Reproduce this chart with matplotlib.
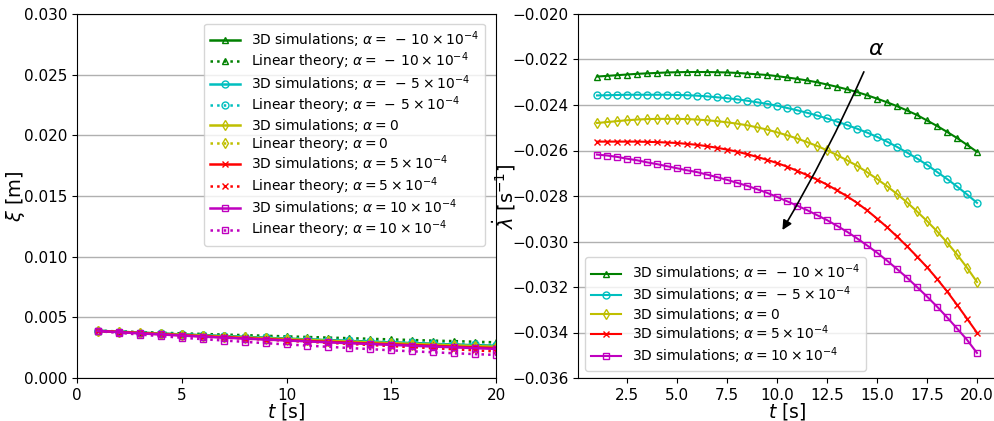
import numpy as np
import matplotlib
matplotlib.use('Agg')
import matplotlib.pyplot as plt

# ---- data: wave amplitude xi (left panel), integer times ----
t_xi = [1, 2, 3, 4, 5, 6, 7, 8, 9, 10, 11, 12, 13, 14, 15, 16, 17, 18, 19, 20]

xi_sim_m10 = [0.00389, 0.00381, 0.00374, 0.00366, 0.00359, 0.00352, 0.00345, 0.00338, 0.00331, 0.00324,
              0.00318, 0.00311, 0.00305, 0.00299, 0.00293, 0.00287, 0.00281, 0.00275, 0.00270, 0.00264]
xi_lin_m10 = [0.00390, 0.00384, 0.00379, 0.00373, 0.00368, 0.00363, 0.00358, 0.00353, 0.00348, 0.00343,
              0.00338, 0.00333, 0.00328, 0.00323, 0.00318, 0.00313, 0.00308, 0.00304, 0.00299, 0.00294]
xi_sim_m5 = [0.00389, 0.00381, 0.00373, 0.00365, 0.00358, 0.00350, 0.00343, 0.00336, 0.00329, 0.00322,
             0.00316, 0.00309, 0.00303, 0.00297, 0.00291, 0.00285, 0.00279, 0.00273, 0.00267, 0.00261]
xi_lin_m5 = [0.00389, 0.00382, 0.00375, 0.00368, 0.00361, 0.00354, 0.00348, 0.00341, 0.00335, 0.00329,
             0.00323, 0.00317, 0.00311, 0.00305, 0.00299, 0.00294, 0.00288, 0.00283, 0.00277, 0.00272]
xi_sim_0 = [0.00388, 0.00380, 0.00372, 0.00364, 0.00356, 0.00348, 0.00341, 0.00334, 0.00327, 0.00320,
            0.00313, 0.00306, 0.00300, 0.00293, 0.00287, 0.00281, 0.00275, 0.00269, 0.00263, 0.00257]
xi_lin_0 = [0.00388, 0.00380, 0.00371, 0.00363, 0.00355, 0.00347, 0.00339, 0.00332, 0.00324, 0.00317,
            0.00310, 0.00303, 0.00296, 0.00289, 0.00283, 0.00276, 0.00270, 0.00264, 0.00258, 0.00252]
xi_sim_5 = [0.00388, 0.00379, 0.00370, 0.00361, 0.00352, 0.00344, 0.00336, 0.00328, 0.00320, 0.00313,
            0.00305, 0.00298, 0.00291, 0.00284, 0.00278, 0.00271, 0.00265, 0.00258, 0.00252, 0.00246]
xi_lin_5 = [0.00387, 0.00378, 0.00369, 0.00360, 0.00351, 0.00342, 0.00334, 0.00325, 0.00316, 0.00307,
            0.00298, 0.00290, 0.00281, 0.00272, 0.00263, 0.00254, 0.00246, 0.00237, 0.00228, 0.00219]
xi_sim_10 = [0.00388, 0.00378, 0.00368, 0.00359, 0.00350, 0.00341, 0.00333, 0.00325, 0.00317, 0.00309,
             0.00302, 0.00294, 0.00287, 0.00280, 0.00273, 0.00266, 0.00259, 0.00253, 0.00246, 0.00240]
xi_lin_10 = [0.00386, 0.00372, 0.00358, 0.00345, 0.00332, 0.00320, 0.00309, 0.00298, 0.00287, 0.00277,
             0.00267, 0.00257, 0.00247, 0.00238, 0.00228, 0.00220, 0.00212, 0.00204, 0.00197, 0.00190]

# ---- data: growth rate lambda-dot (right panel), half-second times ----
t_lam = [1.0, 1.5, 2.0, 2.5, 3.0, 3.5, 4.0, 4.5, 5.0, 5.5, 6.0, 6.5, 7.0, 7.5, 8.0, 8.5, 9.0, 9.5, 10.0,
         10.5, 11.0, 11.5, 12.0, 12.5, 13.0, 13.5, 14.0, 14.5, 15.0, 15.5, 16.0, 16.5, 17.0, 17.5, 18.0,
         18.5, 19.0, 19.5, 20.0]

lam_m10 = [-0.02275, -0.02272, -0.02269, -0.02266, -0.02263, -0.02261, -0.02259, -0.02257, -0.02256,
           -0.02255, -0.02255, -0.02255, -0.02256, -0.02257, -0.02259, -0.02262, -0.02265, -0.02268,
           -0.02273, -0.02279, -0.02285, -0.02292, -0.02300, -0.02310, -0.02320, -0.02331, -0.02343,
           -0.02357, -0.02372, -0.02388, -0.02405, -0.02424, -0.02444, -0.02468, -0.02492, -0.02518,
           -0.02545, -0.02575, -0.02606]
lam_m5 = [-0.02358, -0.02357, -0.02356, -0.02355, -0.02355, -0.02355, -0.02355, -0.02355, -0.02356,
          -0.02357, -0.02359, -0.02362, -0.02366, -0.02370, -0.02375, -0.02381, -0.02388, -0.02395,
          -0.02403, -0.02413, -0.02423, -0.02434, -0.02446, -0.02459, -0.02473, -0.02488, -0.02504,
          -0.02521, -0.02540, -0.02561, -0.02584, -0.02609, -0.02635, -0.02663, -0.02694, -0.02725,
          -0.02758, -0.02793, -0.02830]
lam_0 = [-0.02479, -0.02475, -0.02471, -0.02467, -0.02464, -0.02462, -0.02461, -0.02461, -0.02461,
         -0.02462, -0.02464, -0.02467, -0.02471, -0.02476, -0.02482, -0.02489, -0.02498, -0.02508,
         -0.02520, -0.02533, -0.02547, -0.02563, -0.02580, -0.02599, -0.02620, -0.02643, -0.02667,
         -0.02695, -0.02725, -0.02757, -0.02791, -0.02828, -0.02868, -0.02910, -0.02955, -0.03004,
         -0.03057, -0.03115, -0.03178]
lam_5 = [-0.02561, -0.02561, -0.02561, -0.02561, -0.02561, -0.02562, -0.02563, -0.02565, -0.02567,
         -0.02571, -0.02575, -0.02581, -0.02588, -0.02596, -0.02605, -0.02616, -0.02628, -0.02641,
         -0.02655, -0.02671, -0.02689, -0.02708, -0.02728, -0.02750, -0.02775, -0.02801, -0.02830,
         -0.02863, -0.02899, -0.02937, -0.02978, -0.03021, -0.03066, -0.03113, -0.03164, -0.03219,
         -0.03278, -0.03339, -0.03401]
lam_10 = [-0.02618, -0.02622, -0.02628, -0.02636, -0.02643, -0.02652, -0.02660, -0.02669, -0.02678,
          -0.02687, -0.02695, -0.02706, -0.02717, -0.02729, -0.02742, -0.02755, -0.02770, -0.02786,
          -0.02804, -0.02823, -0.02842, -0.02862, -0.02884, -0.02906, -0.02931, -0.02957, -0.02986,
          -0.03017, -0.03049, -0.03084, -0.03121, -0.03159, -0.03200, -0.03242, -0.03286, -0.03333,
          -0.03382, -0.03432, -0.03490]

alpha_labels = [r'$\alpha = \,-\, 10\times10^{-4}$', r'$\alpha = \,-\, 5\times10^{-4}$', r'$\alpha = 0$',
                r'$\alpha = 5\times10^{-4}$', r'$\alpha = 10\times10^{-4}$']
colors = ['g', 'c', 'y', 'r', 'm']
markers = ['^', 'o', 'd', 'x', 's']

xi_sim = [xi_sim_m10, xi_sim_m5, xi_sim_0, xi_sim_5, xi_sim_10]
xi_lin = [xi_lin_m10, xi_lin_m5, xi_lin_0, xi_lin_5, xi_lin_10]
lam = [lam_m10, lam_m5, lam_0, lam_5, lam_10]

fig = plt.figure(figsize=(9.95, 4.21), dpi=100)
ax1 = fig.add_axes([77 / 995, 43 / 421, 419 / 995, 364 / 421])
ax2 = fig.add_axes([578 / 995, 43 / 421, 418 / 995, 364 / 421])

# left: xi(t)
for i in range(5):
    ax1.plot(t_xi, xi_sim[i], color=colors[i], marker=markers[i], mfc='none', ms=5, lw=1.8,
             label='3D simulations; ' + alpha_labels[i])
    ax1.plot(t_xi, xi_lin[i], color=colors[i], marker=markers[i], mfc='none', ms=5, lw=1.8, ls=':',
             label='Linear theory; ' + alpha_labels[i])
ax1.set_xlim(0, 20)
ax1.set_ylim(0, 0.03)
ax1.set_xticks([0, 5, 10, 15, 20])
ax1.yaxis.grid(True, color='#b0b0b0', lw=1)
ax1.tick_params(labelsize=11)
ax1.set_xlabel(r'$t$ [s]', fontsize=13.5, va='center')
ax1.xaxis.set_label_coords(0.5, -0.091)
ax1.set_ylabel(r'$\xi$ [m]', fontsize=14, va='center')
ax1.yaxis.set_label_coords(-0.147, 0.5)
ax1.legend(loc='upper right', fontsize=10, handlelength=2.2, labelspacing=0.06,
           borderaxespad=0.3, bbox_to_anchor=(0.983, 0.985))

# right: lambda-dot(t)
for i in range(5):
    ax2.plot(t_lam, lam[i], color=colors[i], marker=markers[i], mfc='none', ms=5, lw=1.5,
             label='3D simulations; ' + alpha_labels[i])
ax2.set_ylim(-0.036, -0.020)
ax2.set_yticks(np.arange(-0.036, -0.0199, 0.002))
ax2.set_xticks([2.5, 5.0, 7.5, 10.0, 12.5, 15.0, 17.5, 20.0])
ax2.yaxis.grid(True, color='#b0b0b0', lw=1)
ax2.tick_params(labelsize=11)
ax2.set_xlabel(r'$t$ [s]', fontsize=13.5, va='center')
ax2.xaxis.set_label_coords(0.5, -0.091)
ax2.set_ylabel(r'$\dot{\lambda}$ [s$^{-1}$]', fontsize=14, va='center')
ax2.yaxis.set_label_coords(-0.176, 0.5)
ax2.legend(loc='lower left', fontsize=10, handlelength=2.2, labelspacing=0.06)
ax2.annotate('', xy=(10.2, -0.0296), xytext=(14.4, -0.02243),
             arrowprops=dict(arrowstyle='-|>', color='k', lw=1.2, mutation_scale=14,
                             connectionstyle='arc3,rad=-0.03'))
ax2.text(14.95, -0.02155, r'$\alpha$', fontsize=16, ha='center', va='center')

fig.savefig('out.png', dpi=100)
